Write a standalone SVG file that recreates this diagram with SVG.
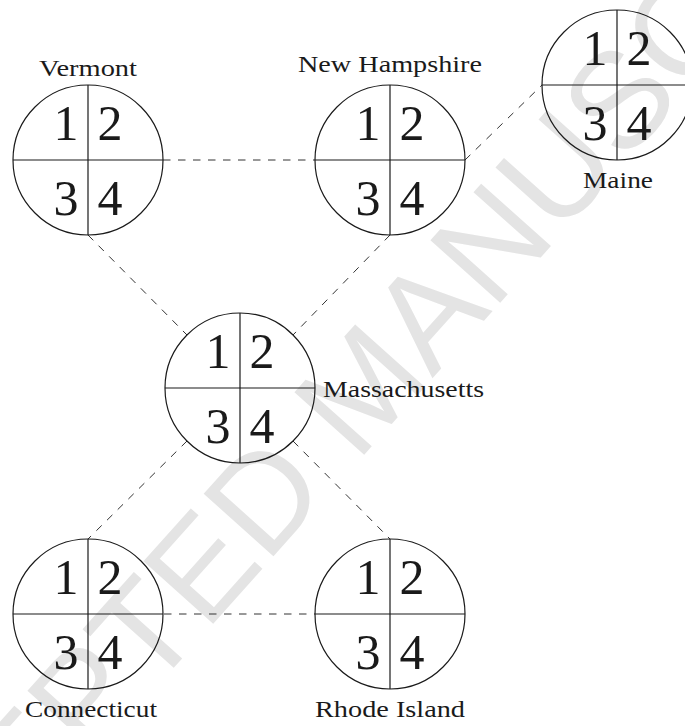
<svg xmlns="http://www.w3.org/2000/svg" width="685" height="726" viewBox="0 0 685 726">
<style>
.wm{font-family:"Liberation Sans",Arial,sans-serif;font-size:136px;fill:#e4e4e4}
.ring{fill:none;stroke:#1a1a1a;stroke-width:1.2}
.div{stroke:#1a1a1a;stroke-width:1.2}
.num{font-family:"Liberation Serif","Times New Roman",serif;font-size:50px;fill:#1a1a1a;text-anchor:middle}
.lbl{font-family:"Liberation Serif","Times New Roman",serif;font-size:23px;fill:#1a1a1a}
.c{text-anchor:middle}
.dash{stroke:#333;stroke-width:1;stroke-dasharray:7.5 7.5;fill:none}
</style>
<rect width="685" height="726" fill="#fff"/>
<g id="watermark">
<text class="wm" text-anchor="middle" transform="translate(397,418) rotate(-48.2)">ACCEPTED MANUSCRIPT</text>
</g>
<g id="connectors">
<line class="dash" x1="163" y1="160" x2="315" y2="160"/>
<line class="dash" x1="465" y1="160" x2="542" y2="85"/>
<line class="dash" x1="88" y1="235" x2="187" y2="335"/>
<line class="dash" x1="390" y1="235" x2="293" y2="335"/>
<line class="dash" x1="187" y1="441" x2="88" y2="539"/>
<line class="dash" x1="293" y1="441" x2="390" y2="539"/>
<line class="dash" x1="164" y1="614" x2="315" y2="614"/>
</g>
<g id="vermont">
<circle class="ring" cx="88" cy="160" r="75"/>
<line class="div" x1="13" y1="160" x2="163" y2="160"/>
<line class="div" x1="88" y1="85" x2="88" y2="235"/>
<text class="num" x="66" y="140">1</text><text class="num" x="110" y="140">2</text>
<text class="num" x="66" y="215">3</text><text class="num" x="110" y="215">4</text>
<text class="lbl c" x="88" y="76" textLength="98" lengthAdjust="spacingAndGlyphs">Vermont</text>
</g>
<g id="new-hampshire">
<circle class="ring" cx="390" cy="160" r="75"/>
<line class="div" x1="315" y1="160" x2="465" y2="160"/>
<line class="div" x1="390" y1="85" x2="390" y2="235"/>
<text class="num" x="368" y="140">1</text><text class="num" x="412" y="140">2</text>
<text class="num" x="368" y="215">3</text><text class="num" x="412" y="215">4</text>
<text class="lbl c" x="390" y="72" textLength="184" lengthAdjust="spacingAndGlyphs">New Hampshire</text>
</g>
<g id="maine">
<circle class="ring" cx="617" cy="85" r="75"/>
<line class="div" x1="542" y1="85" x2="692" y2="85"/>
<line class="div" x1="617" y1="10" x2="617" y2="160"/>
<text class="num" x="595" y="65">1</text><text class="num" x="639" y="65">2</text>
<text class="num" x="595" y="140">3</text><text class="num" x="639" y="140">4</text>
<text class="lbl c" x="618" y="188" textLength="70" lengthAdjust="spacingAndGlyphs">Maine</text>
</g>
<g id="massachusetts">
<circle class="ring" cx="240" cy="388" r="75"/>
<line class="div" x1="165" y1="388" x2="315" y2="388"/>
<line class="div" x1="240" y1="313" x2="240" y2="463"/>
<text class="num" x="218" y="368">1</text><text class="num" x="262" y="368">2</text>
<text class="num" x="218" y="443">3</text><text class="num" x="262" y="443">4</text>
<text class="lbl" x="323" y="397" textLength="161" lengthAdjust="spacingAndGlyphs">Massachusetts</text>
</g>
<g id="connecticut">
<circle class="ring" cx="88" cy="614" r="75"/>
<line class="div" x1="13" y1="614" x2="163" y2="614"/>
<line class="div" x1="88" y1="539" x2="88" y2="689"/>
<text class="num" x="66" y="594">1</text><text class="num" x="110" y="594">2</text>
<text class="num" x="66" y="669">3</text><text class="num" x="110" y="669">4</text>
<text class="lbl c" x="91" y="717" textLength="132" lengthAdjust="spacingAndGlyphs">Connecticut</text>
</g>
<g id="rhode-island">
<circle class="ring" cx="390" cy="614" r="75"/>
<line class="div" x1="315" y1="614" x2="465" y2="614"/>
<line class="div" x1="390" y1="539" x2="390" y2="689"/>
<text class="num" x="368" y="594">1</text><text class="num" x="412" y="594">2</text>
<text class="num" x="368" y="669">3</text><text class="num" x="412" y="669">4</text>
<text class="lbl c" x="390" y="717" textLength="150" lengthAdjust="spacingAndGlyphs">Rhode Island</text>
</g>
</svg>
